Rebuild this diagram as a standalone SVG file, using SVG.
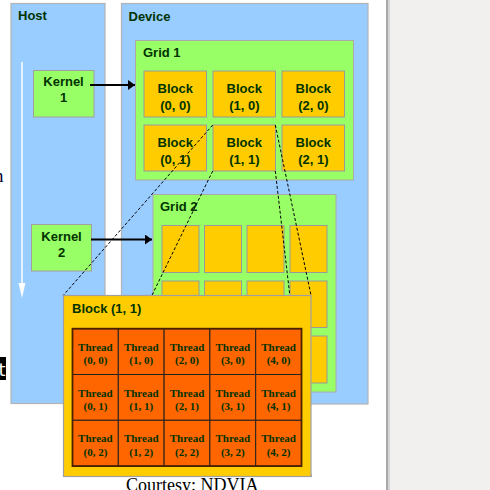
<svg xmlns="http://www.w3.org/2000/svg" width="490" height="490" viewBox="0 0 490 490">
<defs>
<style>
.panel{fill:#99ccff;stroke:#b3b3b3;stroke-width:1.2}
.grid{fill:#99ff66;stroke:#aaaaaa;stroke-width:1}
.blk{fill:#ffcc00;stroke:#999999;stroke-width:1}
.kern{fill:#99ff66;stroke:#a0a0a0;stroke-width:1}
.lbl{font-family:"Liberation Sans",Arial,sans-serif;font-weight:bold;font-size:13px;fill:#003300}
.ctr{text-anchor:middle}
.cell{fill:#ff6600;stroke:#222222;stroke-width:1}
.th{font-family:"Liberation Serif","Times New Roman",serif;font-weight:bold;font-size:11px;fill:#003300;text-anchor:middle}
.dash{stroke:#000;stroke-width:1;stroke-dasharray:3 2;fill:none}
.arr{stroke:#000;stroke-width:1.8;fill:none}
</style>
<marker id="ah" markerWidth="8" markerHeight="10" refX="7" refY="5" orient="auto" markerUnits="userSpaceOnUse">
<path d="M0,0 L7,5 L0,10 Z" fill="#000"/>
</marker>
</defs>
<rect x="0" y="0" width="490" height="490" fill="#ffffff"/>
<rect x="389" y="0" width="101" height="490" fill="#f1f0ef"/>
<rect x="386" y="0" width="2.5" height="490" fill="#a9a9a9"/>
<rect x="388.5" y="0" width="1.5" height="490" fill="#d6d6d6"/>

<g id="fragments">
<text x="-6" y="182" font-family="Liberation Serif,serif" font-size="19" fill="#000033">n</text>
<rect x="0" y="357" width="6" height="23" fill="#000"/>
<text x="-1.5" y="376" font-family="DejaVu Sans,sans-serif" font-size="18" fill="#fff">t</text>
</g>

<g id="host">
<rect class="panel" x="11" y="3.5" width="94" height="400"/>
<text class="lbl" x="18" y="20">Host</text>
<line x1="22" y1="62" x2="22" y2="285" stroke="#ffffff" stroke-width="1.5"/>
<path d="M18.5,283 L25.5,283 L22,298 Z" fill="#ffffff"/>
</g>

<g id="device">
<rect class="panel" x="121.5" y="3.5" width="246.5" height="400.5"/>
<text class="lbl" x="128.5" y="21">Device</text>
</g>

<g id="grid1">
<rect class="grid" x="135.5" y="40.5" width="218" height="139.5"/>
<text class="lbl" x="143" y="56.5">Grid 1</text>
<rect class="blk" x="144" y="71" width="62.5" height="46"/>
<rect class="blk" x="213" y="71" width="62.5" height="46"/>
<rect class="blk" x="282" y="71" width="62.5" height="46"/>
<rect class="blk" x="144" y="125" width="62.5" height="46"/>
<rect class="blk" x="213" y="125" width="62.5" height="46"/>
<rect class="blk" x="282" y="125" width="62.5" height="46"/>
<text class="lbl ctr" x="175.3" y="93">Block</text>
<text class="lbl ctr" x="175.3" y="109.5">(0, 0)</text>
<text class="lbl ctr" x="244.3" y="93">Block</text>
<text class="lbl ctr" x="244.3" y="109.5">(1, 0)</text>
<text class="lbl ctr" x="313.3" y="93">Block</text>
<text class="lbl ctr" x="313.3" y="109.5">(2, 0)</text>
<text class="lbl ctr" x="175.3" y="147">Block</text>
<text class="lbl ctr" x="175.3" y="163.5">(0, 1)</text>
<text class="lbl ctr" x="244.3" y="147">Block</text>
<text class="lbl ctr" x="244.3" y="163.5">(1, 1)</text>
<text class="lbl ctr" x="313.3" y="147">Block</text>
<text class="lbl ctr" x="313.3" y="163.5">(2, 1)</text>
</g>

<g id="grid2">
<rect class="grid" x="153" y="194.5" width="183" height="197.5"/>
<text class="lbl" x="160" y="211">Grid 2</text>
<rect class="blk" x="162" y="225.5" width="37" height="47"/>
<rect class="blk" x="204.5" y="225.5" width="37" height="47"/>
<rect class="blk" x="247" y="225.5" width="37" height="47"/>
<rect class="blk" x="290" y="225.5" width="37" height="47"/>
<rect class="blk" x="162" y="281" width="37" height="46.5"/>
<rect class="blk" x="204.5" y="281" width="37" height="46.5"/>
<rect class="blk" x="247" y="281" width="37" height="46.5"/>
<rect class="blk" x="290" y="281" width="37" height="46.5"/>
<rect class="blk" x="162" y="336" width="37" height="47"/>
<rect class="blk" x="204.5" y="336" width="37" height="47"/>
<rect class="blk" x="247" y="336" width="37" height="47"/>
<rect class="blk" x="290" y="336" width="37" height="47"/>
</g>

<g id="kernel1">
<rect class="kern" x="33.5" y="70.5" width="60.5" height="46.5"/>
<text class="lbl ctr" x="63.5" y="86">Kernel</text>
<text class="lbl ctr" x="63.5" y="102">1</text>
</g>

<g id="kernel2">
<rect class="kern" x="31.5" y="224.5" width="60" height="46.5"/>
<text class="lbl ctr" x="61.5" y="241">Kernel</text>
<text class="lbl ctr" x="61.5" y="257">2</text>
</g>

<g id="connectors">
<line class="arr" x1="90" y1="85" x2="135" y2="85" marker-end="url(#ah)"/>
<line class="arr" x1="91" y1="239.5" x2="152" y2="239.5" marker-end="url(#ah)"/>
<line class="dash" x1="212.7" y1="125" x2="63.3" y2="295.3"/>
<line class="dash" x1="212.7" y1="171" x2="63.3" y2="476.7"/>
<line class="dash" x1="275.3" y1="125" x2="311" y2="295.3"/>
<line class="dash" x1="275.3" y1="171" x2="311" y2="476.7"/>
</g>

<g id="block11">
<rect x="63.5" y="295.5" width="247.5" height="181" fill="#ffcc00" stroke="#a0a0a0" stroke-width="1.2"/>
<text class="lbl" x="72" y="313">Block (1, 1)</text>
<g id="threads">
<rect class="cell" x="72.5" y="328.7" width="45.8" height="45.8"/>
<rect class="cell" x="118.3" y="328.7" width="45.8" height="45.8"/>
<rect class="cell" x="164.1" y="328.7" width="45.8" height="45.8"/>
<rect class="cell" x="209.9" y="328.7" width="45.8" height="45.8"/>
<rect class="cell" x="255.7" y="328.7" width="45.8" height="45.8"/>
<rect class="cell" x="72.5" y="374.5" width="45.8" height="45.8"/>
<rect class="cell" x="118.3" y="374.5" width="45.8" height="45.8"/>
<rect class="cell" x="164.1" y="374.5" width="45.8" height="45.8"/>
<rect class="cell" x="209.9" y="374.5" width="45.8" height="45.8"/>
<rect class="cell" x="255.7" y="374.5" width="45.8" height="45.8"/>
<rect class="cell" x="72.5" y="420.3" width="45.8" height="45.8"/>
<rect class="cell" x="118.3" y="420.3" width="45.8" height="45.8"/>
<rect class="cell" x="164.1" y="420.3" width="45.8" height="45.8"/>
<rect class="cell" x="209.9" y="420.3" width="45.8" height="45.8"/>
<rect class="cell" x="255.7" y="420.3" width="45.8" height="45.8"/>
<rect x="72.5" y="328.7" width="229" height="137.4" fill="none" stroke="#4a2200" stroke-width="1.8"/>
<text class="th" x="95.4" y="351">Thread</text><text class="th" x="95.4" y="364">(0, 0)</text>
<text class="th" x="141.2" y="351">Thread</text><text class="th" x="141.2" y="364">(1, 0)</text>
<text class="th" x="187" y="351">Thread</text><text class="th" x="187" y="364">(2, 0)</text>
<text class="th" x="232.8" y="351">Thread</text><text class="th" x="232.8" y="364">(3, 0)</text>
<text class="th" x="278.6" y="351">Thread</text><text class="th" x="278.6" y="364">(4, 0)</text>
<text class="th" x="95.4" y="396.5">Thread</text><text class="th" x="95.4" y="410">(0, 1)</text>
<text class="th" x="141.2" y="396.5">Thread</text><text class="th" x="141.2" y="410">(1, 1)</text>
<text class="th" x="187" y="396.5">Thread</text><text class="th" x="187" y="410">(2, 1)</text>
<text class="th" x="232.8" y="396.5">Thread</text><text class="th" x="232.8" y="410">(3, 1)</text>
<text class="th" x="278.6" y="396.5">Thread</text><text class="th" x="278.6" y="410">(4, 1)</text>
<text class="th" x="95.4" y="442">Thread</text><text class="th" x="95.4" y="455.5">(0, 2)</text>
<text class="th" x="141.2" y="442">Thread</text><text class="th" x="141.2" y="455.5">(1, 2)</text>
<text class="th" x="187" y="442">Thread</text><text class="th" x="187" y="455.5">(2, 2)</text>
<text class="th" x="232.8" y="442">Thread</text><text class="th" x="232.8" y="455.5">(3, 2)</text>
<text class="th" x="278.6" y="442">Thread</text><text class="th" x="278.6" y="455.5">(4, 2)</text>
</g>
</g>

<text x="126" y="491" font-family="Liberation Serif,'Times New Roman',serif" font-size="18" fill="#000000">Courtesy: NDVIA</text>
</svg>
